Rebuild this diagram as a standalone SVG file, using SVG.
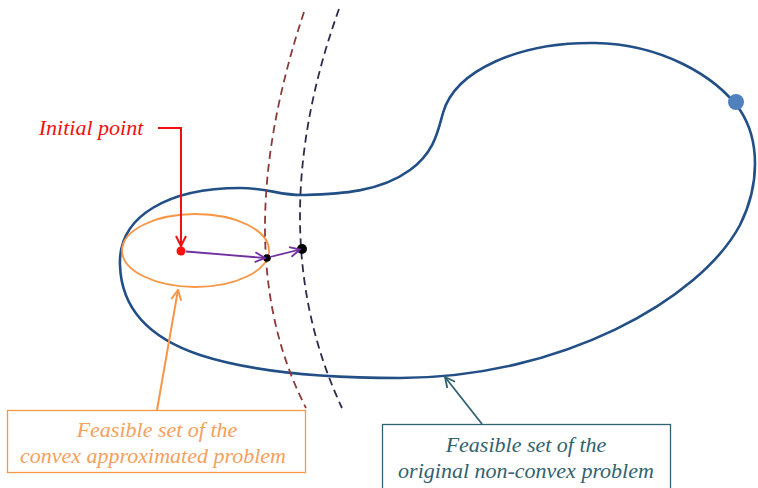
<svg xmlns="http://www.w3.org/2000/svg" width="758" height="488" viewBox="0 0 758 488">
<style>
.lbl{font-family:"Liberation Serif","Times New Roman",serif;font-style:italic;font-size:22px;text-anchor:middle}
.dash{fill:none;stroke-width:1.8;stroke-dasharray:8 5}
</style>
<defs>
<marker id="aRed" viewBox="0 0 12 12" refX="11" refY="6" markerWidth="12" markerHeight="12" markerUnits="userSpaceOnUse" orient="auto"><path d="M1 1 L11 6 L1 11" fill="none" stroke="#f01010" stroke-width="2"/></marker>
<marker id="aPur" viewBox="0 0 12 12" refX="11" refY="6" markerWidth="12" markerHeight="12" markerUnits="userSpaceOnUse" orient="auto"><path d="M1 1 L11 6 L1 11" fill="none" stroke="#7030a0" stroke-width="1.8"/></marker>
<marker id="aOr" viewBox="0 0 12 12" refX="11" refY="6" markerWidth="12" markerHeight="12" markerUnits="userSpaceOnUse" orient="auto"><path d="M1 1 L11 6 L1 11" fill="none" stroke="#f79646" stroke-width="2"/></marker>
<marker id="aTeal" viewBox="0 0 12 12" refX="11" refY="6" markerWidth="12" markerHeight="12" markerUnits="userSpaceOnUse" orient="auto"><path d="M1 1 L11 6 L1 11" fill="none" stroke="#31626f" stroke-width="1.8"/></marker>
</defs>
<rect width="758" height="488" fill="#ffffff"/>
<g id="original-set">
<path d="M120 265 C118 215,170 188,240 188 C270 188,280 196,305 195 C340 194,380 192,410 170 C435 152,438 130,443 113 C455 70,520 42,595 43 C660 44,715 75,740 110 C760 140,760 185,740 225 C700 300,560 378,400 378 C300 378,240 368,200 355 C140 335,121 300,120 265 Z" fill="none" stroke="#234f87" stroke-width="2.6"/>
<circle cx="736" cy="102" r="8" fill="#4f81bd"/>
</g>
<g id="convex-set">
<ellipse cx="195.5" cy="250.5" rx="73.5" ry="36.5" fill="none" stroke="#f79646" stroke-width="1.8"/>
</g>
<g id="boundary-1">
<path class="dash" d="M304 12 Q225 250 306 408" stroke="#8b3a3a"/>
</g>
<g id="boundary-2">
<path class="dash" d="M339 9 Q259.5 231 342 408" stroke="#2e2a4a"/>
</g>
<g id="initial-point">
<circle cx="181" cy="251" r="4.5" fill="#ff1010"/>
<text x="91" y="135" class="lbl" fill="#f01010" font-size="21">Initial point</text>
</g>
<g id="iterate-1">
<circle cx="267" cy="258" r="3.8" fill="#000"/>
</g>
<g id="iterate-2">
<circle cx="302" cy="249" r="5" fill="#000"/>
</g>
<g id="label-convex">
<rect x="7.5" y="410.5" width="298" height="62" fill="#fff" stroke="#f79646" stroke-width="1.3"/>
<text x="157" y="437" class="lbl" fill="#f6a05c">Feasible set of the</text>
<text x="153" y="463" class="lbl" fill="#f6a05c">convex approximated problem</text>
</g>
<g id="label-original">
<rect x="382.5" y="424.5" width="288" height="70" fill="#fff" stroke="#31626f" stroke-width="1.3"/>
<text x="526" y="452" class="lbl" fill="#31626f">Feasible set of the</text>
<text x="526" y="478" class="lbl" fill="#31626f">original non-convex problem</text>
</g>
<g id="connectors">
<path d="M158 128 H181 V246" fill="none" stroke="#f01010" stroke-width="2" marker-end="url(#aRed)"/>
<path d="M186 251.5 L265 258" fill="none" stroke="#7030a0" stroke-width="1.8" marker-end="url(#aPur)"/>
<path d="M270 257 L300 249.5" fill="none" stroke="#7030a0" stroke-width="1.8" marker-end="url(#aPur)"/>
<path d="M157 410 L178 290" fill="none" stroke="#f79646" stroke-width="2" marker-end="url(#aOr)"/>
<path d="M482 424 L445 377" fill="none" stroke="#31626f" stroke-width="1.8" marker-end="url(#aTeal)"/>
</g>
</svg>
